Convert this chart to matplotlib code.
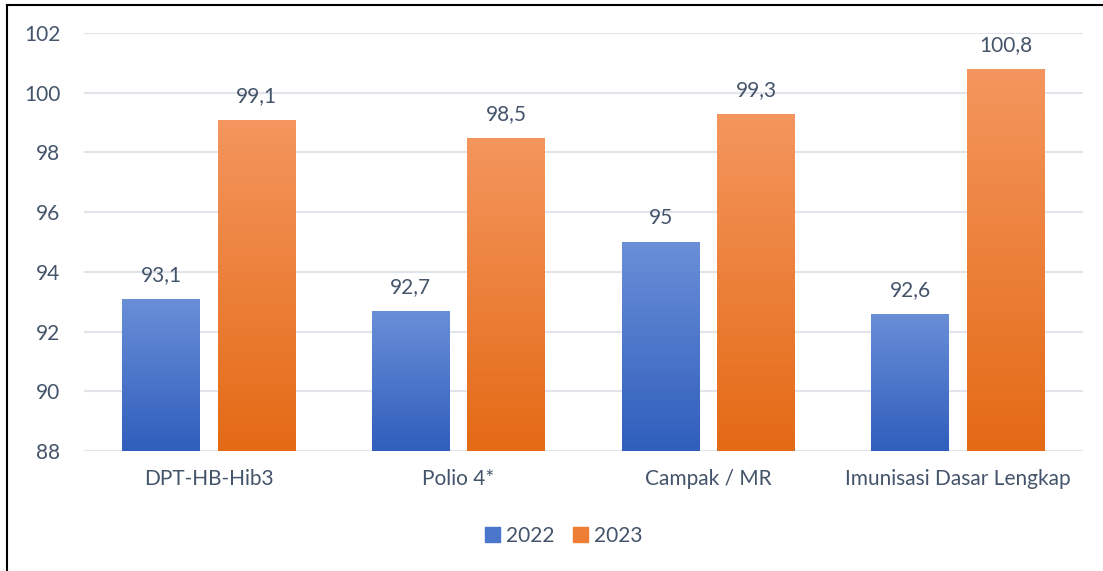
import matplotlib.pyplot as plt
import numpy as np
from matplotlib.colors import LinearSegmentedColormap
from matplotlib.lines import Line2D

categories = ['DPT-HB-Hib3', 'Polio 4*', 'Campak / MR', 'Imunisasi Dasar Lengkap']
values_2022 = [93.1, 92.7, 95.0, 92.6]
values_2023 = [99.1, 98.5, 99.3, 100.8]
labels_2022 = ['93,1', '92,7', '95', '92,6']
labels_2023 = ['99,1', '98,5', '99,3', '100,8']
series_names = ['2022', '2023']

plt.rcParams['font.family'] = ['Lato', 'DejaVu Sans']
text_color = '#44546A'
fs = 15

fig = plt.figure(figsize=(11.03, 5.71), dpi=100)
ax = fig.add_axes([84 / 1103, 1 - 451 / 571, (1083 - 84) / 1103, (451 - 33) / 571])

x = np.arange(len(categories))
width = 0.312
offset = 0.191

bars1 = ax.bar(x - offset, values_2022, width, bottom=0, color='none', zorder=3)
bars2 = ax.bar(x + offset, values_2023, width, bottom=0, color='none', zorder=3)

blue_cmap = LinearSegmentedColormap.from_list('b', ['#2F5EBC', '#6A8FD8'])
orange_cmap = LinearSegmentedColormap.from_list('o', ['#E46A15', '#F4965E'])
grad = np.linspace(0, 1, 256).reshape(-1, 1)

# gradient fill, clipped to each bar
for bars, cmap in [(bars1, blue_cmap), (bars2, orange_cmap)]:
    for b in bars:
        x0 = b.get_x()
        x1 = x0 + b.get_width()
        top = b.get_height()
        im = ax.imshow(grad, cmap=cmap, origin='lower', aspect='auto',
                       extent=[x0, x1, 88, top], zorder=3)
        im.set_clip_path(b)

ax.set_xlim(-0.5, len(categories) - 0.5)
ax.set_ylim(88, 102)

for bars, labels in [(bars1, labels_2022), (bars2, labels_2023)]:
    for b, lab in zip(bars, labels):
        ax.annotate(lab, (b.get_x() + b.get_width() / 2, b.get_height()),
                    xytext=(0, 10), textcoords='offset points', ha='center', va='bottom',
                    fontsize=fs, color=text_color)

ax.set_yticks(np.arange(88, 103, 2))
ax.set_xticks(x)
ax.set_xticklabels(categories)
ax.tick_params(axis='both', length=0, labelsize=fs, colors=text_color)
ax.tick_params(axis='y', pad=17)
ax.tick_params(axis='x', pad=13)
ax.grid(axis='y', color='#E1E4EA', linewidth=1.5, zorder=0)
for s in ax.spines.values():
    s.set_visible(False)

handles = [plt.Rectangle((0, 0), 1, 1, color='#4A76CB'),
           plt.Rectangle((0, 0), 1, 1, color='#EE7E33')]
fig.legend(handles, series_names, loc='center', bbox_to_anchor=(564 / 1103, 1 - 536 / 571),
           ncol=2, frameon=False, fontsize=fs, labelcolor=text_color,
           handlelength=0.7, handleheight=0.7, handletextpad=0.3, columnspacing=0.9)

# frame lines at top and left of the picture
fig.add_artist(Line2D([7 / 1103, 1], [1 - 5 / 571, 1 - 5 / 571], color='black', linewidth=1.5))
fig.add_artist(Line2D([7 / 1103, 7 / 1103], [0, 1 - 5 / 571], color='black', linewidth=1.5))

fig.savefig('out.png', dpi=100)
